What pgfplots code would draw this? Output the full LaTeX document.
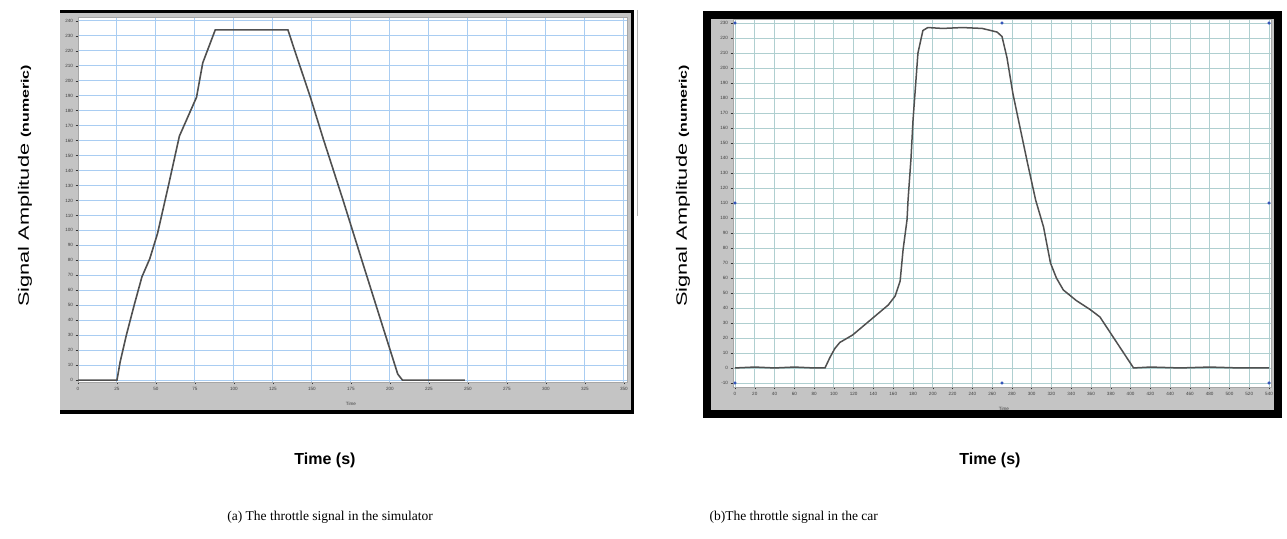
\documentclass[border=0pt]{standalone}
\usepackage{fontspec}
\setmainfont{Liberation Serif}
\newfontfamily\arial{Liberation Sans}
\usepackage{graphicx}
\usepackage{pgfplots}
\pgfplotsset{compat=1.18}

\definecolor{panelgray}{HTML}{C4C4C4}
\definecolor{gridblue}{HTML}{A9CDF2}
\definecolor{gridteal}{HTML}{AFCFD0}
\definecolor{curve}{HTML}{505050}
\definecolor{handle}{HTML}{2E4FB8}

\pgfplotsset{
  screen/.style={
    scale only axis,
    axis background/.style={fill=white},
    axis line style={draw=gray!70},
    grid=major,
    xtick pos=left, ytick pos=left,
    tick align=outside,
    major tick length=2.5pt,
    tick style={gray!40!black, thin},
    tick label style={font=\arial\fontsize{4.6}{5}\selectfont, text=black!75},
    /pgf/number format/assume math mode=true,
    xticklabel style={yshift=1pt},
    yticklabel style={xshift=1pt},
    clip=false,
  }
}

\begin{document}
\begin{tikzpicture}[x=1pt,y=1pt]
\path (0pt,0pt) rectangle (1287pt,538pt);

% left screenshot panel
\fill[panelgray] (60pt,126pt) rectangle (632pt,527pt);
\draw[black, line width=3.5pt] (60pt,526.5pt) -- (632.5pt,526.5pt) -- (632.5pt,126pt) -- (60pt,126pt);
\draw[gray!60, line width=0.6pt] (637pt,528pt) -- (637pt,322pt);

% right screenshot panel
\fill[panelgray] (707pt,124pt) rectangle (1278pt,523pt);
\draw[black, line width=8pt] (707pt,124pt) rectangle (1278pt,523pt);

\begin{axis}[screen,
  at={(78pt,156pt)}, anchor=south west,
  width=549pt, height=365pt,
  xmin=0, xmax=352, ymin=-1.3, ymax=242.6,
  xtick={0,25,...,350}, ytick={0,10,...,240},
  grid style={gridblue, line width=1pt},
]
\addplot[curve, line width=1.6pt] coordinates {
  (0,0) (25,0) (27,12) (31,30) (36,50) (41,69) (46,81) (51,98) (58,130)
  (65,163) (76,189) (80,212) (88,234) (100,234) (120,234) (134.6,234)
  (139,220) (149,189) (157,162) (170,120) (182,80) (195,37) (205,4)
  (208,0) (248,0)
};
\node[font=\arial\fontsize{4.6}{5}\selectfont, text=black!75] at (axis cs:175,-16) {Time};
\end{axis}

\begin{axis}[screen,
  at={(733pt,151pt)}, anchor=south west,
  width=538pt, height=368pt,
  xmin=-2, xmax=542, ymin=-12.7, ymax=232.7,
  xtick={0,20,...,540}, ytick={-10,0,...,230},
  grid style={gridteal, line width=0.8pt},
]
\addplot[curve, line width=1.5pt] coordinates {
  (0,0) (20,0.6) (40,0) (60,0.6) (80,0) (91,0) (96,7) (101,13) (106,17)
  (119,22) (137,32) (155,42) (162,48) (167,58) (170,79) (174,99) (175,112)
  (178,140) (180,165) (185,210) (190,225) (195,227) (210,226.4) (230,227)
  (250,226.4) (265,224) (270,221) (275,207) (281,183) (288,161) (296,136)
  (304,112) (312,94) (319,70) (325,60) (332,52) (345,45) (359,39) (369,34)
  (385,18) (403,0) (420,0.6) (450,0) (480,0.6) (510,0) (540,0)
};
\addplot[only marks, mark=*, mark size=1.4pt, handle] coordinates {
  (0,230) (0,110) (0,-10) (270,230) (270,-10) (540,230) (540,110) (540,-10)
};
\node[font=\arial\fontsize{4.6}{5}\selectfont, text=black!75] at (axis cs:272,-27) {Time};
\end{axis}

% outer labels
\node[rotate=90, font=\arial\fontsize{15}{15}\selectfont] at (25pt,352pt)
  {\scalebox{1.45}[1]{Signal Amplitude {\bfseries\fontsize{11}{11}\selectfont (numeric)}}};
\node[rotate=90, font=\arial\fontsize{15}{15}\selectfont] at (683pt,352pt)
  {\scalebox{1.45}[1]{Signal Amplitude {\bfseries\fontsize{11}{11}\selectfont (numeric)}}};
\node[font=\arial\bfseries\fontsize{16}{16}\selectfont] at (325pt,78pt) {Time (s)};
\node[font=\arial\bfseries\fontsize{16}{16}\selectfont] at (990pt,78pt) {Time (s)};

% captions
\node[font=\fontsize{13.5}{13.5}\selectfont] at (330pt,21pt) {(a) The throttle signal in the simulator};
\node[font=\fontsize{13.5}{13.5}\selectfont, anchor=west] at (706pt,21pt) {(b)The throttle signal in the car};
\end{tikzpicture}
\end{document}
